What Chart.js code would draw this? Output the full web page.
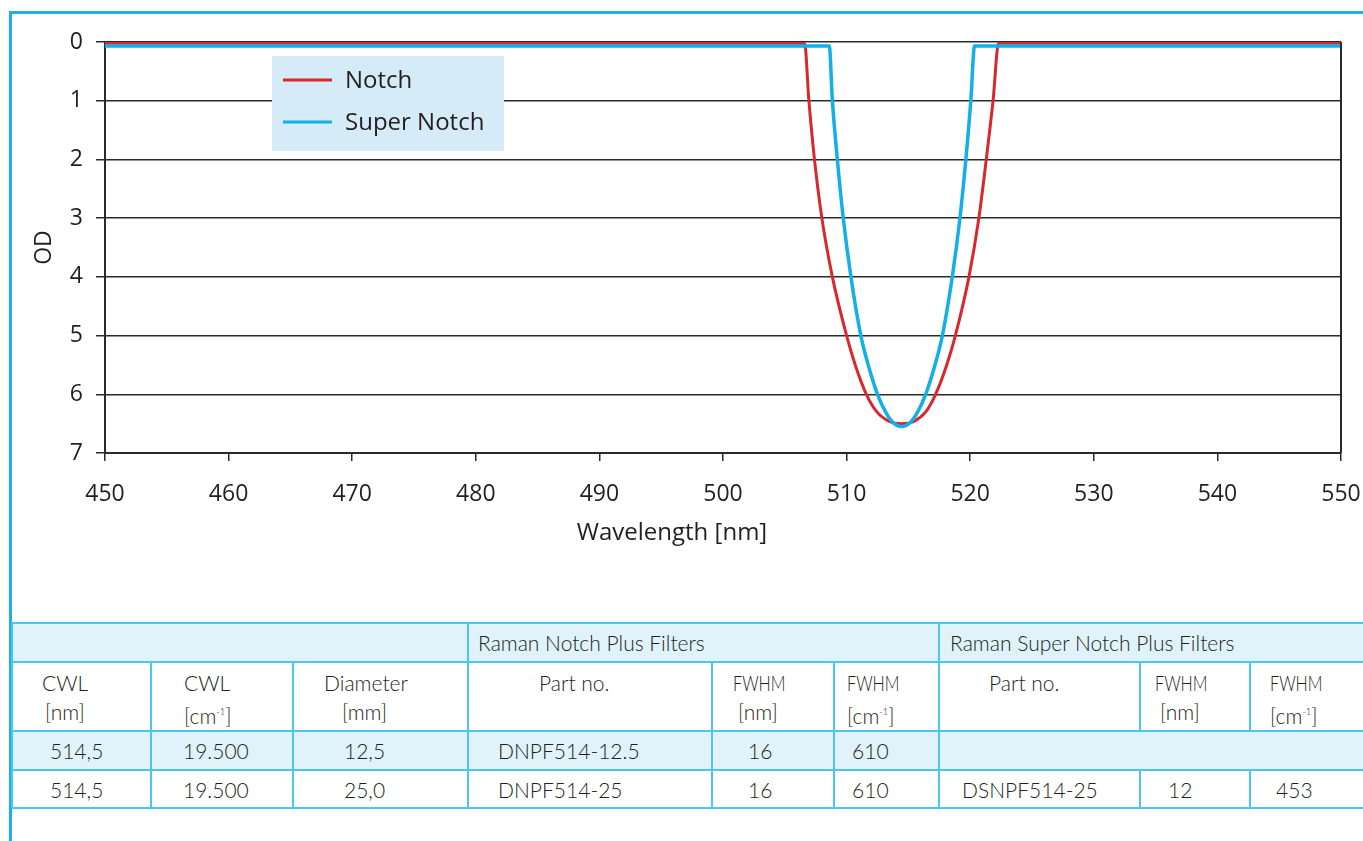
<!DOCTYPE html>
<html>
<head>
<meta charset="utf-8">
<script src="https://cdn.jsdelivr.net/npm/chart.js@4.4.1/dist/chart.umd.min.js"></script>
<style>
    html, body { margin: 0; padding: 0; background: #fff; width: 1363px; height: 841px; overflow: hidden; }
    #frame { position: absolute; left: 9px; top: 11px; width: 1400px; height: 900px; border-left: 3px solid #1ab0e8; border-top: 3px solid #1ab0e8; }
    #odChart { position: absolute; left: 0; top: 0; }
    table.spec { position: absolute; left: 11px; top: 622px; border-collapse: collapse; table-layout: fixed; width: 1368px;
        font-family: Lato, 'Open Sans', sans-serif; font-weight: 300; font-size: 21px; color: #231f20; }
    table.spec td { border: 2px solid #4cc6ee; padding: 0; white-space: nowrap; vertical-align: middle; }
    table.spec tr.blue td { background: #e0f2fa; }
    table.spec tr.group { height: 39px; }
    table.spec tr.head { height: 69px; }
    table.spec tr.head td { vertical-align: top; padding-top: 5px; line-height: 29px; }
    table.spec tr.row1 { height: 39px; }
    table.spec tr.row2 { height: 38px; }
    table.spec sup { font-size: 0.45em; vertical-align: 0.9em; }
    table.spec .narrow { display: inline-block; transform: scaleX(0.77); transform-origin: left center; }
</style>
</head>
<body>
<div id="frame"></div>
<canvas id="odChart" width="1400" height="560"></canvas>

<table class="spec">
    <colgroup>
        <col style="width:139px"><col style="width:142px"><col style="width:175px">
        <col style="width:244px"><col style="width:122px"><col style="width:105px">
        <col style="width:201px"><col style="width:110px"><col style="width:130px">
    </colgroup>
    <tr class="group blue">
        <td colspan="3"></td>
        <td colspan="3" style="padding-left:9px">Raman Notch Plus Filters</td>
        <td colspan="3" style="padding-left:10px">Raman Super Notch Plus Filters</td>
    </tr>
    <tr class="head">
        <td style="padding-left:29px">CWL<br><span style="margin-left:3px">[nm]</span></td>
        <td style="padding-left:32px">CWL<br>[cm<sup>-1</sup>]</td>
        <td style="padding-left:30px">Diameter<br><span style="margin-left:18px">[mm]</span></td>
        <td style="padding-left:70px">Part no.</td>
        <td style="padding-left:20px"><span class="narrow">FWHM</span><br><span style="margin-left:5px">[nm]</span></td>
        <td style="padding-left:12px"><span class="narrow">FWHM</span><br>[cm<sup>-1</sup>]</td>
        <td style="padding-left:49px">Part no.</td>
        <td style="padding-left:14px"><span class="narrow">FWHM</span><br><span style="margin-left:5px">[nm]</span></td>
        <td style="padding-left:19px"><span class="narrow">FWHM</span><br>[cm<sup>-1</sup>]</td>
    </tr>
    <tr class="row1 blue">
        <td style="padding-left:37px">514,5</td>
        <td style="padding-left:31px">19.500</td>
        <td style="padding-left:50px">12,5</td>
        <td style="padding-left:29px">DNPF514-12.5</td>
        <td style="padding-left:35px">16</td>
        <td style="padding-left:17px">610</td>
        <td colspan="3"></td>
    </tr>
    <tr class="row2">
        <td style="padding-left:37px">514,5</td>
        <td style="padding-left:31px">19.500</td>
        <td style="padding-left:50px">25,0</td>
        <td style="padding-left:29px">DNPF514-25</td>
        <td style="padding-left:35px">16</td>
        <td style="padding-left:17px">610</td>
        <td style="padding-left:22px">DSNPF514-25</td>
        <td style="padding-left:27px">12</td>
        <td style="padding-left:25px">453</td>
    </tr>
</table>

<script>
// Notch filter curve (wavelength in nm, optical density)
const notchWavelength = [450, 506.6, 506.95, 507.4, 508.0, 508.85, 510.0, 510.7, 511.6, 512.45, 513.45, 514.45, 515.45, 516.4, 517.2, 518.1, 518.8, 519.9, 520.7, 521.3, 521.85, 522.3, 550];
const notchOD         = [0.02, 0.02, 1, 2, 3, 4, 5, 5.5, 6, 6.3, 6.46, 6.5, 6.46, 6.3, 6, 5.5, 5, 4, 3, 2, 1, 0.02, 0.02];

// Super Notch filter curve
const superWavelength = [450, 508.6, 508.85, 509.25, 509.73, 510.35, 511.15, 511.75, 512.5, 513.15, 513.75, 514.45, 515.15, 515.75, 516.4, 517.15, 517.75, 518.55, 519.17, 519.65, 520.05, 520.35, 550];
const superOD         = [0.07, 0.07, 1, 2, 3, 4, 5, 5.5, 6, 6.3, 6.48, 6.55, 6.48, 6.3, 6, 5.5, 5, 4, 3, 2, 1, 0.07, 0.07];

const seriesLabels = ['Notch', 'Super Notch'];
const seriesColors = ['#d9272e', '#12afe8'];

const textColor = '#231f20';
const gridColor = '#2a2a2a';
const fontFamily = "'Open Sans', sans-serif";

const toPoints = (xs, ys) => xs.map((x, i) => ({ x: x, y: ys[i] }));

// legend box drawn inside the plot area
const insideLegend = {
    id: 'insideLegend',
    afterDatasetsDraw(chart, args, opts) {
        const ctx = chart.ctx;
        ctx.save();
        ctx.fillStyle = opts.background;
        ctx.fillRect(opts.left, opts.top, opts.width, opts.height);
        ctx.font = opts.fontSize + 'px ' + fontFamily;
        ctx.textBaseline = 'middle';
        chart.data.datasets.forEach((ds, i) => {
            const y = opts.firstY + i * opts.rowGap;
            ctx.strokeStyle = ds.borderColor;
            ctx.lineWidth = 3;
            ctx.beginPath();
            ctx.moveTo(opts.lineX, y);
            ctx.lineTo(opts.lineX + opts.lineLength, y);
            ctx.stroke();
            ctx.fillStyle = textColor;
            ctx.fillText(ds.label, opts.textX, y + 1);
        });
        ctx.restore();
    }
};

// right frame line of the plot + x axis caption (sits left of the plot centre)
const plotExtras = {
    id: 'plotExtras',
    afterDraw(chart, args, opts) {
        const { ctx, chartArea } = chart;
        ctx.save();
        ctx.strokeStyle = gridColor;
        ctx.lineWidth = 2;
        ctx.beginPath();
        ctx.moveTo(chartArea.right, chartArea.top);
        ctx.lineTo(chartArea.right, chartArea.bottom);
        ctx.stroke();

        ctx.fillStyle = textColor;
        ctx.font = opts.fontSize + 'px ' + fontFamily;
        ctx.textAlign = 'center';
        ctx.textBaseline = 'middle';
        ctx.fillText(opts.xCaption, opts.captionX, opts.captionY);
        ctx.restore();
    }
};

const ctx = document.getElementById('odChart').getContext('2d');

new Chart(ctx, {
    type: 'line',
    data: {
        datasets: [{
            label: seriesLabels[0],
            data: toPoints(notchWavelength, notchOD),
            borderColor: seriesColors[0],
            borderWidth: 3,
            order: 1
        }, {
            label: seriesLabels[1],
            data: toPoints(superWavelength, superOD),
            borderColor: seriesColors[1],
            borderWidth: 3.5,
            order: 0
        }]
    },
    options: {
        responsive: false,
        animation: false,
        devicePixelRatio: 1,
        cubicInterpolationMode: 'monotone',
        elements: { point: { radius: 0 } },
        layout: { padding: { top: 42, right: 59, left: 0, bottom: 0 } },
        plugins: {
            legend: { display: false },
            tooltip: { enabled: false },
            insideLegend: {
                left: 272, top: 56, width: 232, height: 95,
                background: '#d5ebf8',
                lineX: 283, lineLength: 49, textX: 345,
                firstY: 80, rowGap: 42, fontSize: 24
            },
            plotExtras: {
                xCaption: 'Wavelength [nm]',
                captionX: 672, captionY: 533, fontSize: 24
            }
        },
        scales: {
            x: {
                type: 'linear',
                min: 450,
                max: 550,
                afterFit: (scale) => { scale.height = 107; },
                ticks: {
                    stepSize: 10,
                    color: textColor,
                    padding: 20,
                    maxRotation: 0,
                    font: { family: fontFamily, size: 23 }
                },
                grid: {
                    drawOnChartArea: false,
                    drawTicks: true,
                    tickLength: 8,
                    color: gridColor,
                    lineWidth: 1.5
                },
                border: { color: gridColor, width: 2 }
            },
            y: {
                type: 'linear',
                reverse: true,
                min: 0,
                max: 7,
                afterFit: (scale) => { scale.width = 105; },
                ticks: {
                    stepSize: 1,
                    color: textColor,
                    padding: 13,
                    font: { family: fontFamily, size: 23 }
                },
                grid: {
                    drawTicks: true,
                    tickLength: 9,
                    color: gridColor,
                    lineWidth: 1.5
                },
                border: { color: gridColor, width: 2 },
                title: {
                    display: true,
                    text: 'OD',
                    color: textColor,
                    padding: { top: 31, bottom: 0 },
                    font: { family: fontFamily, size: 23 }
                }
            }
        }
    },
    plugins: [insideLegend, plotExtras]
});
</script>
</body>
</html>
